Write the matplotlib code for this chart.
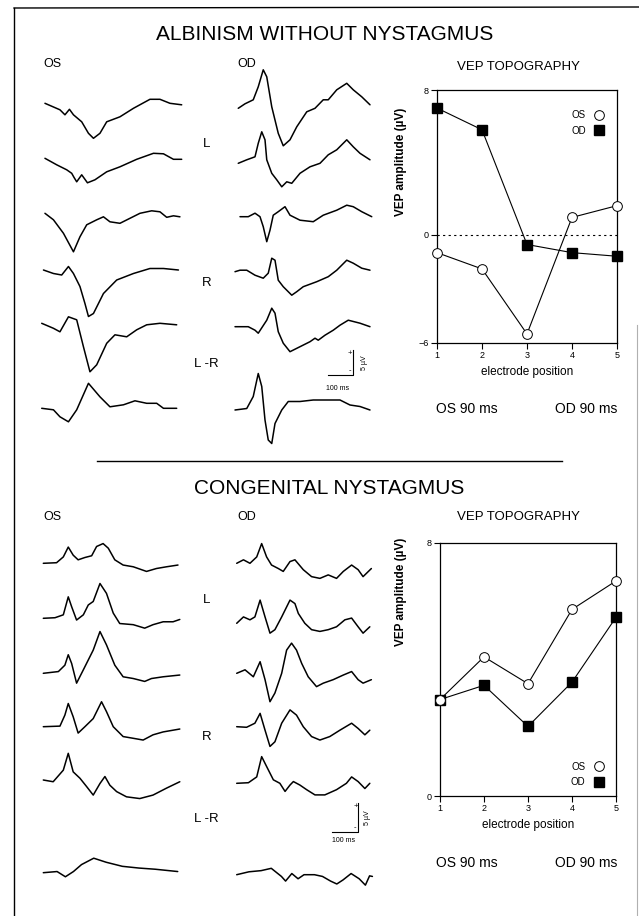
import matplotlib
matplotlib.use('Agg')
import matplotlib.pyplot as plt
from matplotlib.lines import Line2D
import numpy as np

plt.rcParams['font.family'] = ['Liberation Sans', 'DejaVu Sans']

W, H = 639, 916

# ---------------- DATA ----------------
electrodes = [1, 2, 3, 4, 5]
alb_os_amp = [-1.0, -1.9, -5.5, 0.95, 1.6]
alb_od_amp = [7.0, 5.8, -0.55, -1.0, -1.2]
con_os_amp = [3.05, 4.4, 3.55, 5.9, 6.8]
con_od_amp = [3.05, 3.5, 2.2, 3.6, 5.65]
alb_yticks = [8, 0, -6]
con_yticks = [8, 0]
row_labels = ["L", "R", "L -R"]

# VEP waveforms: time (ms) and amplitude (uV)
alb_os1_t = [13, 73, 93, 111, 127, 160, 187, 207, 233, 260, 313, 367, 433, 473, 513, 560]
alb_os1_v = [0, -1.3, -2.3, -1.2, -2.3, -3.7, -6.0, -7.0, -6.0, -3.7, -2.7, -1.0, 0.8, 0.8, 0, -0.3]
alb_os2_t = [13, 60, 100, 120, 129, 140, 160, 183, 213, 260, 313, 380, 447, 487, 527, 560]
alb_os2_v = [0, -1.3, -2.3, -3.0, -3.8, -4.7, -3.3, -4.9, -4.3, -2.7, -1.7, -0.2, 1.0, 0.9, -0.2, -0.2]
alb_os3_t = [13, 47, 87, 127, 153, 180, 220, 247, 273, 313, 353, 393, 440, 473, 500, 527, 553]
alb_os3_v = [0, -1.3, -4.0, -7.7, -4.7, -2.3, -1.3, -0.7, -1.7, -2.0, -1.0, 0, 0.5, 0.3, -0.8, -0.5, -0.7]
alb_os4_t = [7, 47, 80, 107, 127, 153, 173, 187, 207, 247, 300, 367, 433, 487, 547]
alb_os4_v = [0, -0.7, -1.0, 0.7, -0.7, -3.3, -6.7, -9.3, -8.7, -4.7, -2.0, -0.7, 0.3, 0.3, 0]
alb_os5_t = [0, 47, 73, 107, 140, 167, 193, 220, 260, 293, 340, 380, 420, 473, 540]
alb_os5_v = [0, -1.0, -1.7, 1.3, 0.7, -4.7, -9.7, -8.3, -4.0, -2.3, -2.7, -1.3, -0.3, 0, -0.3]
alb_os6_t = [0, 47, 73, 107, 140, 187, 233, 273, 327, 373, 420, 460, 487, 513, 540]
alb_os6_v = [0, -0.3, -1.7, -2.7, -0.3, 5.0, 2.3, 0.3, 0.7, 1.5, 1.0, 1.0, 0, 0, 0]

alb_od1_t = [13, 40, 73, 93, 113, 127, 147, 173, 193, 220, 247, 287, 320, 353, 373, 407, 447, 473, 507, 540]
alb_od1_v = [0, 0.9, 1.7, 4.3, 7.7, 6.3, 0.3, -5.0, -7.5, -6.3, -3.7, -0.7, 0, 1.7, 1.7, 3.7, 5.0, 3.7, 2.3, 0.7]
alb_od2_t = [13, 47, 80, 93, 107, 120, 127, 147, 167, 187, 207, 227, 260, 300, 340, 373, 407, 447, 473, 500, 540]
alb_od2_v = [0, 0.7, 1.3, 4.0, 6.3, 4.7, 0.7, -2.0, -3.3, -4.7, -3.7, -4.0, -2.0, -0.7, 0, 1.7, 2.7, 4.7, 3.3, 2.0, 0.7]
alb_od3_t = [20, 53, 80, 100, 113, 127, 140, 153, 173, 200, 220, 260, 313, 353, 407, 447, 473, 507, 547]
alb_od3_v = [0, 0, 0.7, 0, -2.0, -5.0, -2.7, 0.3, 1.0, 2.0, 0.3, -0.7, -1.0, 0.3, 1.3, 2.3, 2.0, 1.0, 0]
alb_od4_t = [0, 20, 47, 80, 113, 133, 147, 160, 173, 193, 227, 247, 273, 327, 373, 407, 447, 473, 507, 540]
alb_od4_v = [0, 0.3, 0.3, -0.7, -1.3, -0.3, 2.7, 2.3, -1.7, -3.0, -4.7, -4.0, -3.0, -2.0, -1.0, 0.3, 2.3, 1.7, 0.7, 0.3]
alb_od5_t = [0, 53, 80, 93, 127, 147, 160, 173, 193, 220, 260, 300, 320, 333, 360, 393, 420, 453, 500, 540]
alb_od5_v = [0, 0, -0.7, -1.3, 1.3, 3.7, 2.7, -1.0, -3.3, -5.0, -4.0, -3.0, -2.3, -2.7, -1.7, -0.7, 0.3, 1.3, 0.7, 0]
alb_od6_t = [0, 47, 73, 93, 107, 120, 133, 147, 160, 187, 213, 260, 313, 380, 420, 460, 500, 540]
alb_od6_v = [0, 0.3, 2.7, 7.3, 4.7, -2.0, -6.0, -6.7, -2.7, 0, 1.7, 1.7, 2.0, 2.0, 2.0, 1.0, 0.7, 0]

con_os1_t = [0, 51, 77, 96, 115, 134, 160, 186, 205, 230, 250, 275, 307, 346, 397, 435, 474, 518]
con_os1_v = [0, 0.1, 1.1, 2.8, 1.4, 0.6, 1.0, 1.3, 2.9, 3.4, 2.6, 0.6, -0.3, -0.6, -1.4, -0.9, -0.6, -0.3]
con_os2_t = [0, 45, 77, 96, 109, 128, 154, 173, 192, 218, 243, 269, 294, 346, 390, 422, 461, 499, 525]
con_os2_v = [0, 0.1, 0.6, 3.7, 2.0, -0.3, 0.6, 2.3, 2.9, 6.0, 4.3, 0.9, -0.9, -1.1, -1.7, -1.1, -0.6, -0.6, -0.2]
con_os3_t = [0, 58, 83, 96, 109, 128, 154, 192, 218, 243, 275, 307, 346, 390, 416, 461, 525]
con_os3_v = [0, 0.3, 1.4, 3.2, 1.7, -1.7, 0.6, 4.0, 7.2, 4.9, 1.4, -0.6, -0.9, -1.4, -0.9, -0.6, -0.3]
con_os4_t = [0, 64, 83, 96, 115, 134, 160, 192, 224, 243, 269, 307, 346, 384, 422, 461, 525]
con_os4_v = [0, 0.1, 2.0, 4.0, 1.7, -1.1, 0, 1.4, 4.3, 2.6, 0, -1.7, -2.0, -2.3, -1.4, -0.9, -0.4]
con_os5_t = [0, 38, 77, 96, 115, 141, 166, 192, 218, 237, 256, 282, 320, 371, 422, 474, 525]
con_os5_v = [0, -0.3, 1.7, 4.6, 1.4, 0.3, -1.1, -2.6, -0.6, 0.6, -0.9, -2.0, -2.9, -3.2, -2.6, -1.4, -0.3]
con_os6_t = [0, 53, 85, 116, 147, 194, 242, 304, 368, 430, 517]
con_os6_v = [0, 0.2, -0.7, 0.2, 1.4, 2.5, 1.8, 1.1, 0.8, 0.6, 0.2]

con_od1_t = [0, 26, 51, 77, 96, 115, 134, 160, 179, 205, 224, 256, 288, 320, 352, 384, 410, 442, 467, 486, 518]
con_od1_v = [0, 0.6, 0, 1.1, 3.4, 1.1, -0.3, -0.9, -1.4, 0.3, 0.6, -1.1, -2.3, -2.6, -2.0, -2.6, -1.4, -0.3, -1.1, -2.3, -0.9]
con_od2_t = [0, 26, 51, 70, 90, 109, 128, 147, 173, 205, 224, 237, 262, 288, 320, 352, 384, 416, 442, 467, 486, 512]
con_od2_v = [0, 1.1, 0.6, 1.1, 4.0, 1.1, -1.7, -1.1, 1.1, 4.0, 3.4, 1.7, 0, -1.1, -1.4, -1.1, -0.6, 0.6, 0.9, -0.6, -1.7, -0.6]
con_od3_t = [0, 32, 64, 90, 109, 128, 147, 173, 192, 211, 230, 250, 275, 307, 333, 371, 410, 442, 467, 486, 518]
con_od3_v = [0, 0.6, -0.6, 2.0, -1.1, -4.9, -3.4, 0, 4.0, 5.2, 4.0, 1.7, -0.6, -2.3, -1.7, -1.1, -0.3, 0.3, -1.1, -1.7, -1.1]
con_od4_t = [0, 38, 70, 90, 109, 128, 147, 173, 205, 230, 256, 288, 320, 358, 397, 442, 467, 493, 512]
con_od4_v = [0, -0.1, 0.6, 2.3, -0.6, -3.4, -2.6, 0.6, 2.9, 2.0, 0, -1.7, -2.3, -1.7, -0.6, 0.6, -0.3, -1.4, -0.6]
con_od5_t = [0, 45, 77, 96, 115, 141, 166, 186, 205, 218, 243, 269, 301, 339, 384, 422, 442, 467, 493, 512]
con_od5_v = [0, 0.1, 1.1, 4.6, 2.9, 0.6, 0, -1.4, -0.3, 0.3, -0.3, -1.1, -2.0, -2.0, -1.1, 0, 1.1, 0.3, -0.9, 0]
con_od6_t = [0, 47, 94, 133, 172, 188, 212, 236, 259, 299, 330, 361, 385, 409, 440, 471, 495, 511, 522]
con_od6_v = [0, 0.5, 0.7, 1.1, -0.3, -1.1, 0.2, -0.7, 0, 0, -0.3, -1.1, -1.6, -0.9, 0.2, -0.7, -1.8, -0.2, -0.3]

scale_ms = 100
scale_uv = 5

# ---------------- LAYOUT ----------------
fig = plt.figure(figsize=(W / 100, H / 100), dpi=100)


def ftext(x, y, s, **kw):
    fig.text(x / W, 1 - y / H, s, **kw)


def wave_col(x0, y_top, y_bot, width, px_per_ms, px_per_uv):
    ax = fig.add_axes([x0 / W, 1 - y_bot / H, width / W, (y_bot - y_top) / H])
    ax.set_xlim(0, width / px_per_ms)
    ax.set_ylim(-(y_bot - y_top) / px_per_uv, 0)
    ax.axis('off')
    return ax


def draw_traces(ax, traces, bases, y_top, px_per_uv):
    for (t, v), b in zip(traces, bases):
        off = -(b - y_top) / px_per_uv
        ax.plot(t, np.array(v) + off, color='black', lw=1.1, clip_on=False,
                solid_joinstyle='round', solid_capstyle='round')


def scale_bar(ax, t_end, y_bot):
    ax.plot([t_end - scale_ms, t_end, t_end], [y_bot, y_bot, y_bot + scale_uv],
            color='black', lw=0.8, clip_on=False)


# border
fig.add_artist(Line2D([14 / W, 14 / W], [1 - 8 / H, 0], color='black', lw=1.0))
fig.add_artist(Line2D([14 / W, 1], [1 - 8 / H, 1 - 7 / H], color='black', lw=1.0))
fig.add_artist(Line2D([637 / W, 637 / W], [1 - 325 / H, 0], color='#b0b0b0', lw=0.8))
# separator
fig.add_artist(Line2D([97 / W, 562 / W], [1 - 461 / H, 1 - 461 / H], color='black', lw=1.0))

# titles
ftext(325, 34, "ALBINISM WITHOUT NYSTAGMUS", fontsize=15, ha='center', va='center')
ftext(329, 489, "CONGENITAL NYSTAGMUS", fontsize=15, ha='center', va='center')

for ytop_lab, yL, yR, yLR in [(64, 144, 283, 364), (517, 600, 737, 819)]:
    ftext(43, ytop_lab, "OS", fontsize=9, va='center')
    ftext(237, ytop_lab, "OD", fontsize=9, va='center')
    ftext(207, yL, row_labels[0], fontsize=9.5, va='center', ha='center')
    ftext(207, yR, row_labels[1], fontsize=9.5, va='center', ha='center')
    ftext(206, yLR, row_labels[2], fontsize=9.5, va='center', ha='center')

# ---- top waveforms
PX_MS_A, PX_UV_A = 0.25, 5.0
ax = wave_col(41.7, 80, 460, 160, PX_MS_A, PX_UV_A)
draw_traces(ax, [(alb_os1_t, alb_os1_v), (alb_os2_t, alb_os2_v), (alb_os3_t, alb_os3_v),
                 (alb_os4_t, alb_os4_v), (alb_os5_t, alb_os5_v), (alb_os6_t, alb_os6_v)],
            [103.3, 158.3, 213.3, 270, 323.3, 408.3], 80, PX_UV_A)
ax = wave_col(235, 80, 460, 160, PX_MS_A, PX_UV_A)
draw_traces(ax, [(alb_od1_t, alb_od1_v), (alb_od2_t, alb_od2_v), (alb_od3_t, alb_od3_v),
                 (alb_od4_t, alb_od4_v), (alb_od5_t, alb_od5_v), (alb_od6_t, alb_od6_v)],
            [108.3, 163.3, 216.7, 271.7, 326.7, 410], 80, PX_UV_A)
sb_t, sb_y = 471, -59
scale_bar(ax, sb_t, sb_y)
ax.text(sb_t - 12, sb_y + scale_uv - 0.6, "+", fontsize=5.5, ha='center', va='center')
ax.text(sb_t - 12, sb_y + 0.8, "-", fontsize=5.5, ha='center', va='center')
ax.text(sb_t + 48, sb_y + scale_uv / 2, "5 \u00b5V", fontsize=5, rotation=90, ha='center', va='center')
ax.text(sb_t - scale_ms / 2 - 10, sb_y - 2.6, "100 ms", fontsize=5, ha='center', va='center')

# ---- bottom waveforms
PX_MS_C, PX_UV_C = 0.26, 5.8
ax = wave_col(43.3, 530, 900, 160, PX_MS_C, PX_UV_C)
draw_traces(ax, [(con_os1_t, con_os1_v), (con_os2_t, con_os2_v), (con_os3_t, con_os3_v),
                 (con_os4_t, con_os4_v), (con_os5_t, con_os5_v), (con_os6_t, con_os6_v)],
            [563.3, 618.3, 673.3, 726.7, 780, 872.7], 530, PX_UV_C)
ax = wave_col(236.7, 530, 900, 160, PX_MS_C, PX_UV_C)
draw_traces(ax, [(con_od1_t, con_od1_v), (con_od2_t, con_od2_v), (con_od3_t, con_od3_v),
                 (con_od4_t, con_od4_v), (con_od5_t, con_od5_v), (con_od6_t, con_od6_v)],
            [563.3, 623.3, 673.3, 726.7, 783.3, 874.7], 530, PX_UV_C)
sb_t, sb_y = 466.5, -52.1
scale_bar(ax, sb_t, sb_y)
ax.text(sb_t - 10, sb_y + scale_uv - 0.5, "+", fontsize=5.5, ha='center', va='center')
ax.text(sb_t - 12, sb_y + 0.8, "-", fontsize=5.5, ha='center', va='center')
ax.text(sb_t + 38, sb_y + scale_uv / 2, "5 \u00b5V", fontsize=5, rotation=90, ha='center', va='center')
ax.text(sb_t - scale_ms / 2 - 5, sb_y - 1.4, "100 ms", fontsize=5, ha='center', va='center')


# ---- topography plots
def topo(box, os_amp, od_amp, ylim, yticks, leg_anchor, zero_line):
    l, r, t, b = box
    ax = fig.add_axes([l / W, 1 - b / H, (r - l) / W, (b - t) / H])
    ax.set_xlim(1, 5)
    ax.set_ylim(*ylim)
    if zero_line:
        ax.plot([1, 5], [0, 0], color='black', lw=0.8, ls=(0, (2, 3)))
    ax.plot(electrodes, od_amp, color='black', lw=0.8, marker='s', ms=6.5,
            mfc='black', mec='black', clip_on=False, zorder=3, label='OD')
    ax.plot(electrodes, os_amp, color='black', lw=0.8, marker='o', ms=7,
            mfc='white', mec='black', mew=0.7, clip_on=False, zorder=4, label='OS')
    ax.set_xticks(electrodes)
    ax.set_yticks(yticks)
    ax.tick_params(direction='out', length=4, width=0.8, labelsize=6.5, pad=2)
    for s in ax.spines.values():
        s.set_linewidth(0.9)
    ax.set_xlabel("electrode position", fontsize=8.5, labelpad=4)
    hs = [Line2D([], [], ls='none', marker='o', ms=7, mfc='white', mec='black', mew=0.7),
          Line2D([], [], ls='none', marker='s', ms=6.5, mfc='black', mec='black')]
    ax.legend(hs, ['OS', 'OD'], loc='center', bbox_to_anchor=leg_anchor,
              markerfirst=False, frameon=False, fontsize=7, handlelength=1.2,
              handletextpad=0.8, labelspacing=0.6, borderpad=0)
    return ax


topo((437, 617, 90, 343), alb_os_amp, alb_od_amp, (-6, 8), alb_yticks, (0.84, 0.87), True)
topo((440, 616, 543, 796), con_os_amp, con_od_amp, (0, 8), con_yticks, (0.84, 0.085), False)

for yl, yhead, y90 in [(162, 67, 409), (592, 517, 863)]:
    ftext(401, yl, "VEP amplitude (\u00b5V)", fontsize=8.5, fontweight='bold',
          rotation=90, ha='center', va='center')
    ftext(518, yhead, "VEP TOPOGRAPHY", fontsize=9.5, ha='center', va='center')
    ftext(467, y90, "OS 90 ms", fontsize=10, ha='center', va='center')
    ftext(586, y90, "OD 90 ms", fontsize=10, ha='center', va='center')

fig.savefig('out.png', dpi=100, facecolor='white')
